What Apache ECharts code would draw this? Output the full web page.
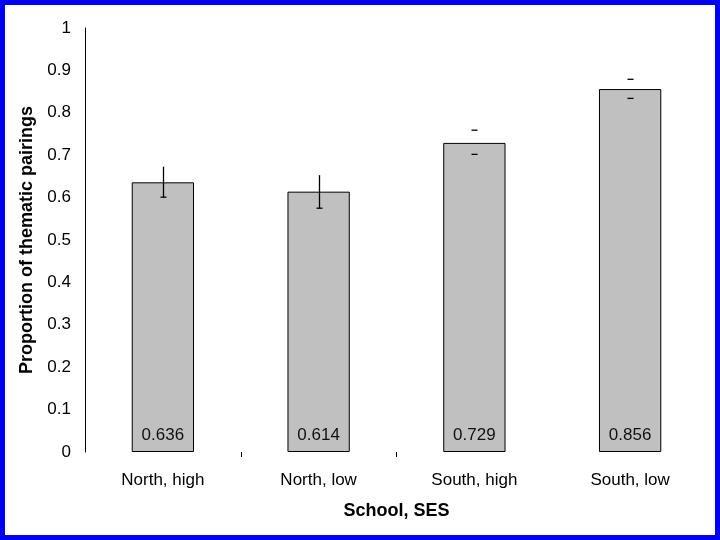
<!DOCTYPE html>
<html>
<head>
<meta charset="utf-8">
<script src="https://cdn.jsdelivr.net/npm/echarts@6/dist/echarts.min.js"></script>
<style>
html,body{margin:0;padding:0;background:#fff;}
#chart{width:720px;height:540px;box-sizing:border-box;border:5px solid #0000f5;}
</style>
</head>
<body>
<div id="chart"></div>
<script>
const categories = ['North, high', 'North, low', 'South, high', 'South, low'];
const values = [0.636, 0.614, 0.729, 0.856];
const errLow = [0.601, 0.575, 0.702, 0.834];
const errHigh = [0.673, 0.653, 0.759, 0.879];
const yTicks = [0, 0.1, 0.2, 0.3, 0.4, 0.5, 0.6, 0.7, 0.8, 0.9, 1];
const xTickPositions = [0.5, 1.5];

const drawStem = [true, true, false, false];

const chart = echarts.init(document.getElementById('chart'), null, {renderer: 'canvas'});
const font = '"Liberation Sans", Arial, sans-serif';

const option = {
  animation: false,
  grid: {left: 80, right: 7, top: 23, bottom: 83},
  xAxis: [{
    type: 'category',
    data: categories,
    name: 'School, SES',
    nameLocation: 'middle',
    nameGap: 50,
    nameTextStyle: {fontFamily: font, fontSize: 18, fontWeight: 'bold', color: '#000'},
    axisLine: {show: false},
    axisTick: {show: false},
    axisLabel: {fontFamily: font, fontSize: 17, color: '#000', margin: 20}
  }, {
    type: 'value',
    position: 'bottom',
    min: -0.5, max: 3.5,
    axisLine: {show: false, onZero: false},
    splitLine: {show: false},
    axisLabel: {show: false},
    axisTick: {show: true, length: 5, lineStyle: {color: '#000'}, customValues: xTickPositions}
  }],
  yAxis: {
    type: 'value',
    min: 0, max: 1, interval: 0.1,
    name: 'Proportion of thematic pairings',
    nameLocation: 'middle',
    nameGap: 46,
    nameTextStyle: {fontFamily: font, fontSize: 18, fontWeight: 'bold', color: '#000'},
    axisLine: {show: true, onZero: false, lineStyle: {color: '#000', width: 1}},
    axisTick: {show: false},
    splitLine: {show: false},
    axisLabel: {fontFamily: font, fontSize: 17, color: '#000', margin: 14,
      formatter: function (v) {
        const t = yTicks.find(function (k) { return Math.abs(k - v) < 1e-9; });
        return String(Math.round((t !== undefined ? t : v) * 10) / 10);
      }}
  },
  series: [
    {
      type: 'bar',
      xAxisIndex: 0,
      data: values,
      barWidth: '40%',
      itemStyle: {color: '#c0c0c0', borderColor: '#000', borderWidth: 1},
      label: {show: true, position: 'insideBottom', distance: 8,
        fontFamily: font, fontSize: 17, color: '#111',
        formatter: function (p) { return p.value.toFixed(3); }}
    },
    {
      type: 'custom',
      xAxisIndex: 0,
      data: categories.map(function (c, i) { return [i, errLow[i], errHigh[i]]; }),
      renderItem: function (params, api) {
        const i = api.value(0);
        const lo = api.coord([i, api.value(1)]);
        const hi = api.coord([i, api.value(2)]);
        const x = Math.round(lo[0]) + 0.5;
        const cw = 3;
        const style = {stroke: '#000', lineWidth: 1.3};
        const children = [];
        if (drawStem[i]) {
          children.push({type: 'line', shape: {x1: x, y1: hi[1], x2: x, y2: lo[1]}, style: style});
          children.push({type: 'line', shape: {x1: x - cw, y1: lo[1], x2: x + cw, y2: lo[1]}, style: style});
        } else {
          children.push({type: 'line', shape: {x1: x - cw, y1: lo[1], x2: x + cw, y2: lo[1]}, style: style});
          children.push({type: 'line', shape: {x1: x - cw, y1: hi[1], x2: x + cw, y2: hi[1]}, style: style});
        }
        return {type: 'group', children: children};
      },
      z: 5
    }
  ]
};
chart.setOption(option);
</script>
</body>
</html>
